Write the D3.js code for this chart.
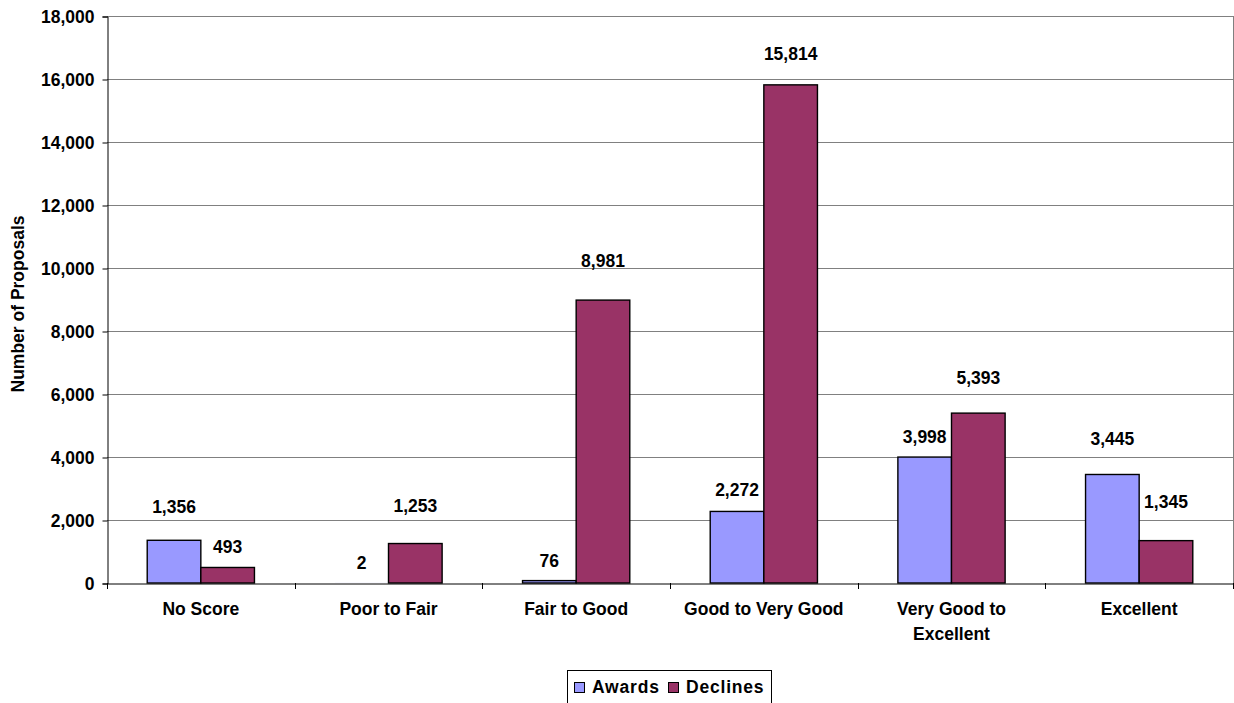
<!DOCTYPE html>
<html>
<head>
<meta charset="utf-8">
<script src="https://cdn.jsdelivr.net/npm/d3@7"></script>
<style>
  html, body { margin: 0; padding: 0; background: #fff; }
  svg { display: block; font-family: "Liberation Sans", Arial, sans-serif; }
</style>
</head>
<body>
<svg id="chart" width="1234" height="703"></svg>
<script>
// ---- data ----
const categories = [["No Score"], ["Poor to Fair"], ["Fair to Good"], ["Good to Very Good"], ["Very Good to", "Excellent"], ["Excellent"]];
const seriesNames = ["Awards", "Declines"];
const awards   = [1356, 2, 76, 2272, 3998, 3445];
const declines = [493, 1253, 8981, 15814, 5393, 1345];
const yTicks = [0, 2000, 4000, 6000, 8000, 10000, 12000, 14000, 16000, 18000];
const yTitle = "Number of Proposals";

// ---- layout / style ----
const colors = ["#9999FF", "#993366"];
const plot = { left: 107, right: 1233, top: 16, bottom: 583 };
// vertical lift of each value label above its bar top (px), as placed in the original
const labelLift = [[33, 20, 20, 21, 20, 35], [20, 38, 39, 31, 35, 39]];
const FS = 17.5;

const svg = d3.select("#chart");
const catKeys = categories.map(c => c.join(" "));

const x0 = d3.scaleBand().domain(catKeys).range([plot.left, plot.right]).padding(0);
const x1 = d3.scaleBand().domain(seriesNames).range([0, x0.bandwidth()]).paddingInner(0).paddingOuter(0.75);
const y = d3.scaleLinear().domain([0, 18000]).range([plot.bottom, plot.top]);

// gridlines
svg.append("g").selectAll("line").data(yTicks.filter(d => d > 0)).join("line")
  .attr("x1", plot.left).attr("x2", plot.right)
  .attr("y1", d => Math.round(y(d)) + 0.5).attr("y2", d => Math.round(y(d)) + 0.5)
  .attr("stroke", "#808080").attr("stroke-width", 1);
// right border
svg.append("line").attr("x1", plot.right + 0.5).attr("x2", plot.right + 0.5)
  .attr("y1", plot.top).attr("y2", plot.bottom)
  .attr("stroke", "#808080").attr("stroke-width", 1);

// y axis
const yAxis = d3.axisLeft(y).tickValues(yTicks).tickSize(5).tickPadding(8).tickFormat(d3.format(","));
const gy = svg.append("g").attr("transform", `translate(${plot.left + 0.5},0.5)`).call(yAxis);
gy.select(".domain").attr("stroke", "#000");
gy.selectAll(".tick line").attr("stroke", "#000");
gy.selectAll(".tick text").attr("font-size", FS).attr("font-weight", "bold").attr("fill", "#000")
  .attr("font-family", "Liberation Sans, Arial, sans-serif");

// bars
const series = [awards, declines];
const groups = svg.append("g").selectAll("g").data(catKeys).join("g")
  .attr("transform", d => `translate(${x0(d)},0)`);
groups.selectAll("rect").data((d, i) => seriesNames.map((s, j) => ({ s, j, v: series[j][i] })))
  .join("rect")
  .attr("x", d => x1(d.s))
  .attr("y", d => y(d.v))
  .attr("width", x1.bandwidth())
  .attr("height", d => y(0) - y(d.v))
  .attr("fill", d => colors[d.j])
  .attr("stroke", d => (y(0) - y(d.v)) < 0.5 ? "none" : "#000")
  .attr("stroke-width", 1.4);

// value labels
groups.selectAll("text.val").data((d, i) => seriesNames.map((s, j) => ({ s, j, i, v: series[j][i] })))
  .join("text").attr("class", "val")
  .attr("x", d => x1(d.s) + x1.bandwidth() / 2)
  .attr("y", d => y(d.v) - labelLift[d.j][d.i] + 6)
  .attr("text-anchor", "middle")
  .attr("font-size", FS).attr("font-weight", "bold").attr("fill", "#000")
  .text(d => d3.format(",")(d.v));

// x axis
const xAxis = d3.axisBottom(x0).tickSize(0).tickFormat(() => "");
const gx = svg.append("g").attr("transform", `translate(0,${plot.bottom + 0.5})`).call(xAxis);
gx.select(".domain").attr("stroke", "#000");
// category boundary ticks
const bounds = catKeys.map(k => x0(k)).concat([plot.right]);
svg.append("g").selectAll("line").data(bounds).join("line")
  .attr("x1", d => Math.round(d) + 0.5).attr("x2", d => Math.round(d) + 0.5)
  .attr("y1", plot.bottom).attr("y2", plot.bottom + 6)
  .attr("stroke", "#000");
// category labels
svg.append("g").selectAll("text").data(categories).join("text")
  .attr("x", (d, i) => x0(catKeys[i]) + x0.bandwidth() / 2)
  .attr("y", 615)
  .attr("text-anchor", "middle")
  .attr("font-size", FS).attr("font-weight", "bold").attr("fill", "#000")
  .selectAll("tspan").data(d => d).join("tspan")
  .attr("x", function () { return this.parentNode.getAttribute("x"); })
  .attr("dy", (d, k) => k === 0 ? 0 : 25)
  .text(d => d);

// y title
svg.append("text")
  .attr("transform", `translate(24,304) rotate(-90)`)
  .attr("text-anchor", "middle")
  .attr("font-size", FS).attr("font-weight", "bold").attr("fill", "#000")
  .text(yTitle);

// legend
const lg = svg.append("g");
lg.append("rect").attr("x", 567.5).attr("y", 670.5).attr("width", 204).attr("height", 40)
  .attr("fill", "#fff").attr("stroke", "#000").attr("stroke-width", 1);
const legendX = [574, 668];
seriesNames.forEach((s, j) => {
  lg.append("rect").attr("x", legendX[j] + 0.5).attr("y", 682.5).attr("width", 10).attr("height", 10)
    .attr("fill", colors[j]).attr("stroke", "#000").attr("stroke-width", 1);
  lg.append("text").attr("x", legendX[j] + 18).attr("y", 692.5)
    .attr("font-size", FS).attr("font-weight", "bold").attr("letter-spacing", 0.8).attr("fill", "#000")
    .text(s);
});
</script>
</body>
</html>
